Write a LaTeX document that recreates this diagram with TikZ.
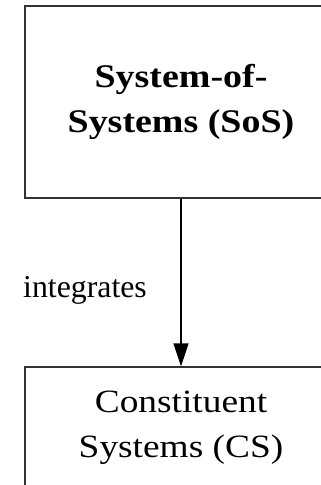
\documentclass[tikz,border=0pt]{standalone}
\usepackage{fontspec}
\setmainfont{Liberation Serif}
\newfontfamily\widefont[FakeStretch=1.15]{Liberation Serif}
\usetikzlibrary{arrows.meta}

\begin{document}
\begin{tikzpicture}[x=1pt, y=-1pt]
\tikzset{sysbox/.style={draw=black!80, line width=1.3pt, minimum width=312pt, align=center,
    font=\widefont\fontsize{32.5}{45}\selectfont}}
\useasboundingbox (0, 0) rectangle (321, 485);
\node[sysbox, minimum height=192pt, font=\widefont\bfseries\fontsize{33}{45}\selectfont] (SoS) at (181, 102) {System-of-\\Systems (SoS)};
\node[sysbox, minimum height=122pt] (CS) at (181, 428) {Constituent\\Systems (CS)};
\node[font=\fontsize{31.8}{36}\selectfont, anchor=base west, inner sep=0pt] (integ) at (23, 297) {integrates};
\draw[line width=1.3pt, -{Triangle[length=23pt, width=15pt]}] (SoS) -- (CS);
\end{tikzpicture}
\end{document}
